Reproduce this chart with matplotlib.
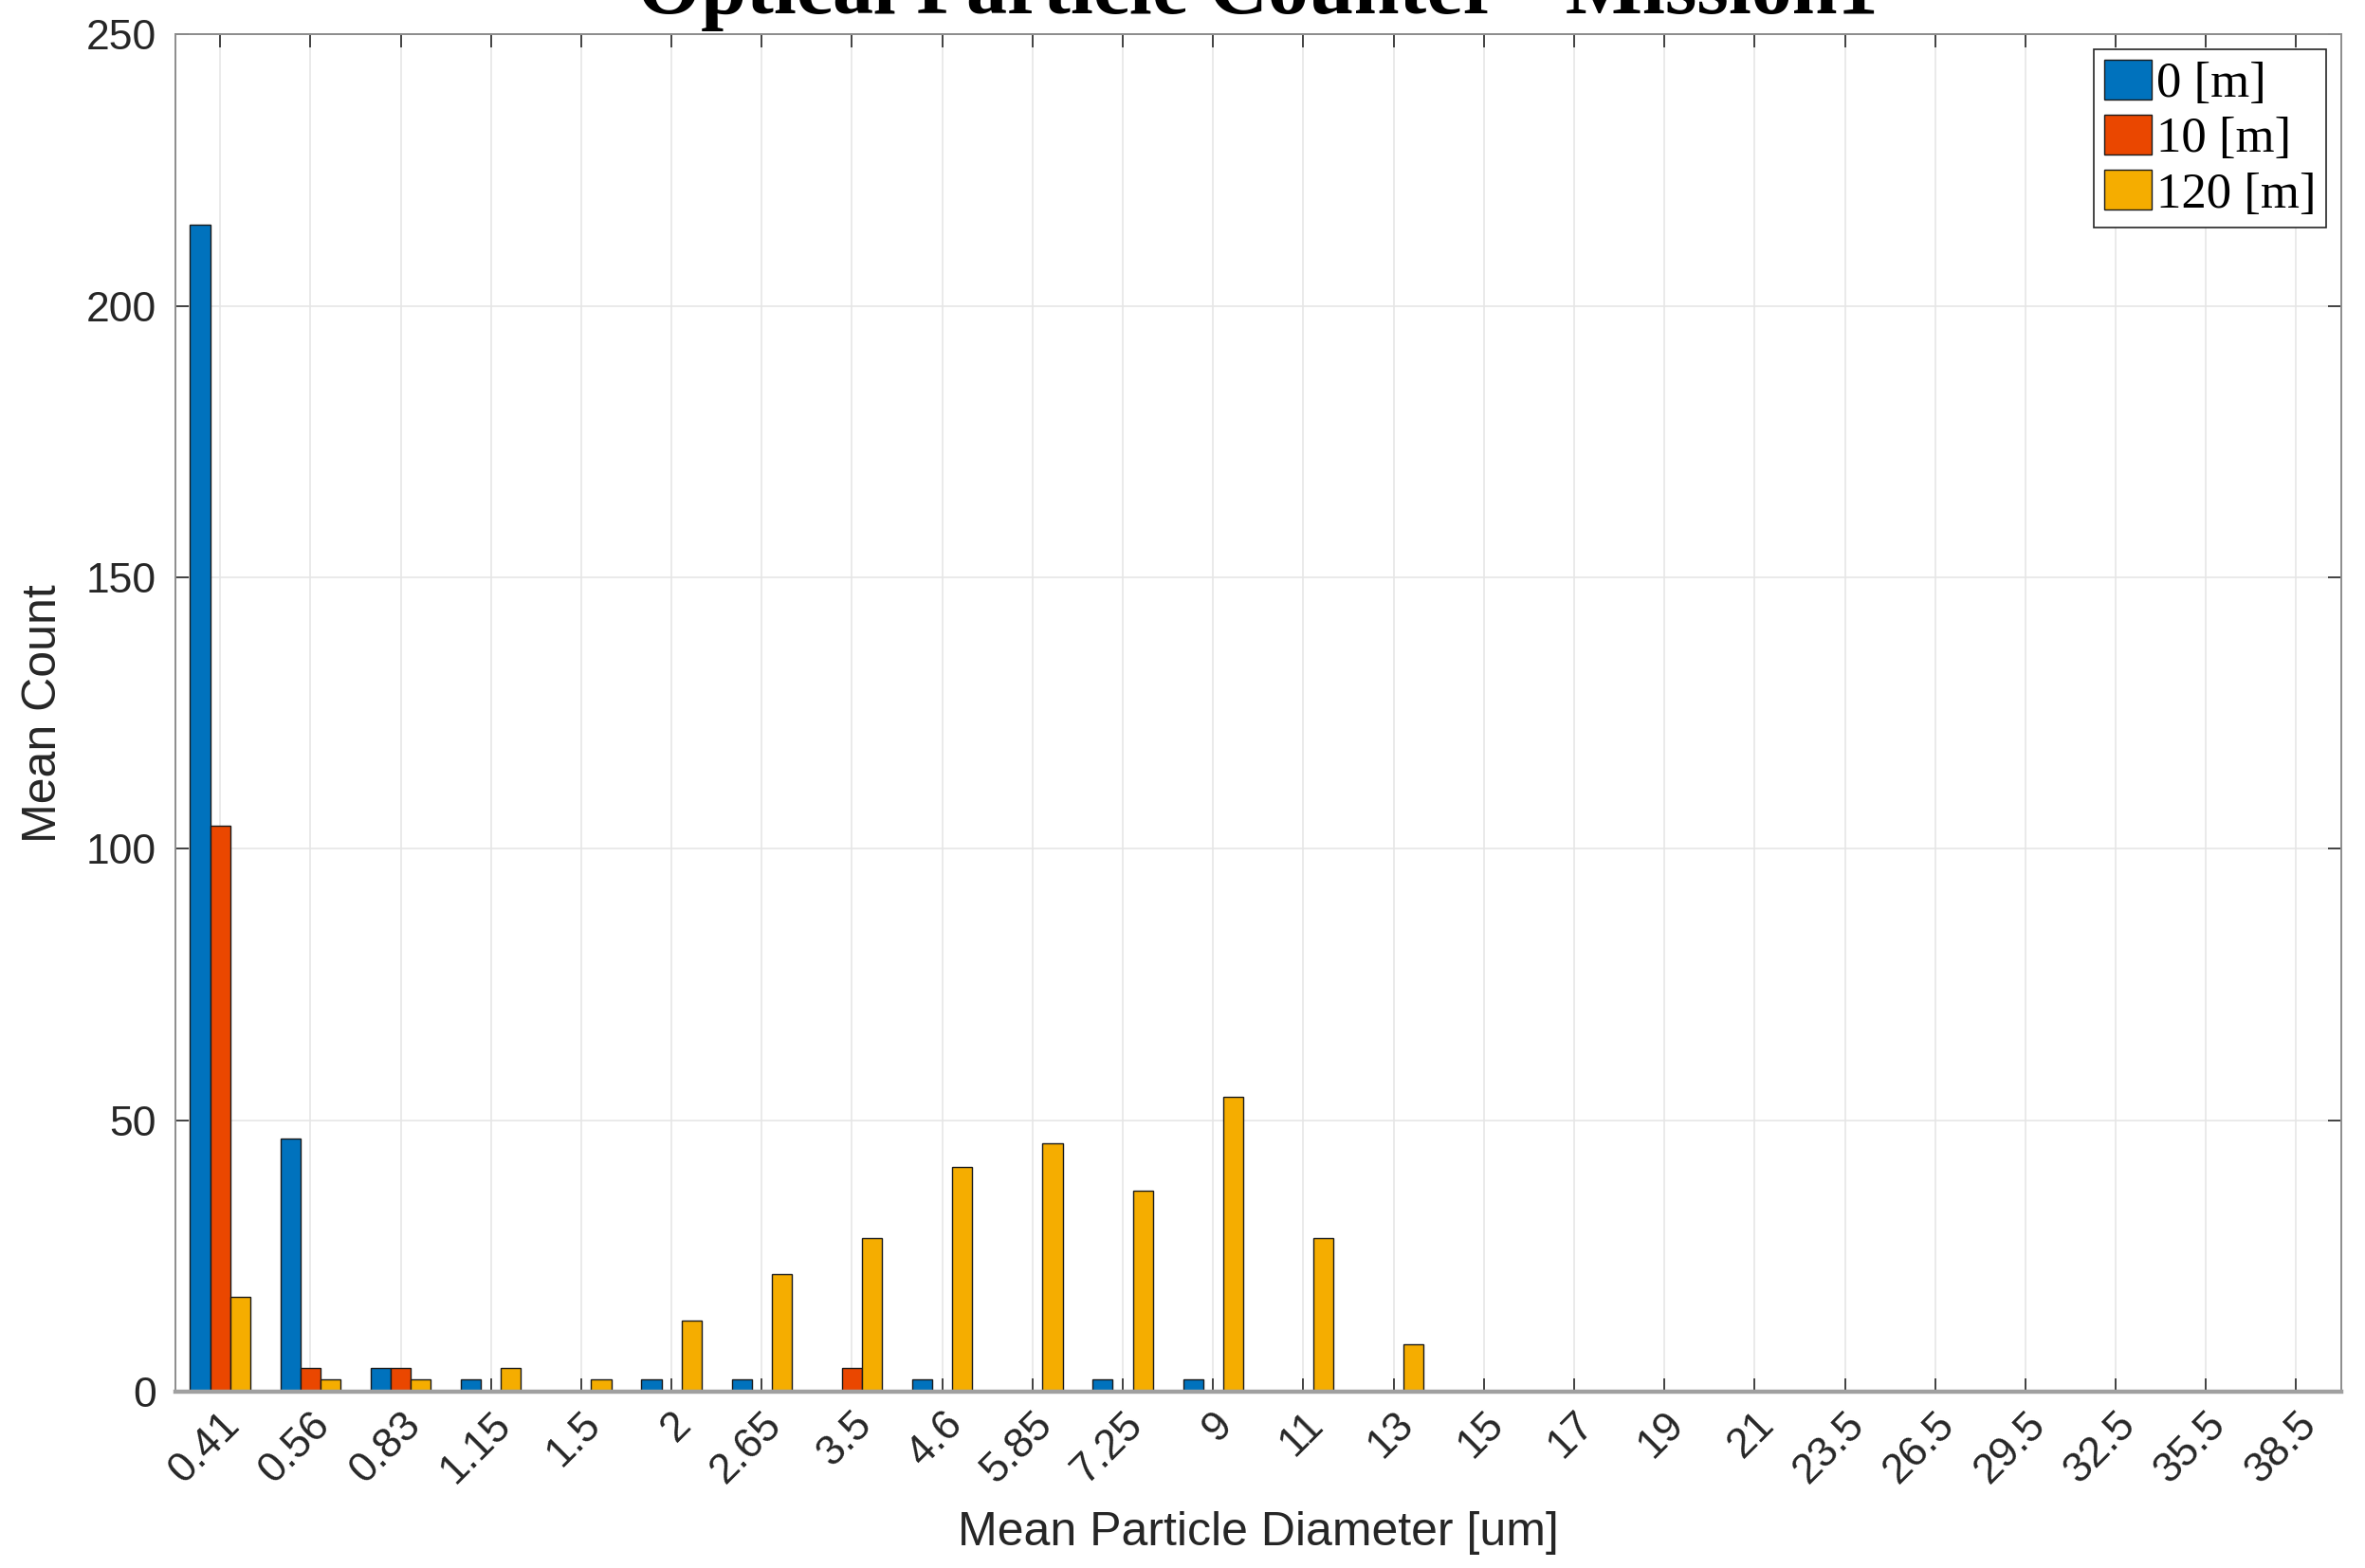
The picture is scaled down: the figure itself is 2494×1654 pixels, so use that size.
import numpy as np
import matplotlib
matplotlib.use("Agg")
import matplotlib.pyplot as plt

# size bins (um) and mean counts per altitude
bins = ["0.41", "0.56", "0.83", "1.15", "1.5", "2", "2.65", "3.5", "4.6", "5.85",
        "7.25", "9", "11", "13", "15", "17", "19", "21", "23.5", "26.5",
        "29.5", "32.5", "35.5", "38.5"]
count_0m = [215, 46.7, 4.3, 2.2, 0, 2.2, 2.2, 0, 2.2, 0,
            2.2, 2.2, 0, 0, 0, 0, 0, 0, 0, 0, 0, 0, 0, 0]
count_10m = [104.3, 4.3, 4.3, 0, 0, 0, 0, 4.3, 0, 0,
             0, 0, 0, 0, 0, 0, 0, 0, 0, 0, 0, 0, 0, 0]
count_120m = [17.4, 2.2, 2.2, 4.3, 2.2, 13.0, 21.7, 28.3, 41.3, 45.7,
              37.0, 54.3, 28.3, 8.7, 0, 0, 0, 0, 0, 0, 0, 0, 0, 0]
labels = ["0 [m]", "10 [m]", "120 [m]"]
colors = ["#0072BD", "#EA4700", "#F5AD00"]

fig = plt.figure(figsize=(12.47, 8.27), dpi=200)
ax = fig.add_axes([0.074, 0.1125, 0.916, 0.8655])

x = np.arange(1, len(bins) + 1)
w = 0.222
for k, (vals, lab, c) in enumerate(zip([count_0m, count_10m, count_120m], labels, colors)):
    ax.bar(x + (k - 1) * w, vals, width=w, color=c, edgecolor="#1a1a1a",
           linewidth=0.5, label=lab, zorder=2)

ax.set_xlim(0.5, 24.5)
ax.set_ylim(0, 250)
ax.set_yticks(np.arange(0, 251, 50))
ax.set_xticks(x)
ax.set_xticklabels(bins, rotation=45, ha="right", rotation_mode="anchor",
                   family="Liberation Sans", fontsize=16, color="#262626")
for t in ax.get_yticklabels():
    t.set_family("Liberation Sans")
    t.set_fontsize(16)
    t.set_color("#262626")

ax.grid(True, color="#e6e6e6", linewidth=0.6, zorder=0)
ax.set_axisbelow(True)
ax.tick_params(direction="in", length=5, width=0.6, color="#262626",
               top=True, right=True, pad=7)
ax.tick_params(axis="x", pad=5)
for s in ax.spines.values():
    s.set_color("#8c8c8c")
    s.set_linewidth(0.7)
ax.spines["bottom"].set_color("#a0a0a0")
ax.spines["bottom"].set_linewidth(1.6)

ax.set_xlabel("Mean Particle Diameter [um]", family="Liberation Sans",
              fontsize=18, color="#262626", labelpad=8)
ax.set_ylabel("Mean Count", family="Liberation Sans", fontsize=18,
              color="#262626", labelpad=8)

fig.text(0.532, 0.9915, "Optical Particle Counter - Mission1", ha="center",
         va="baseline", family="Liberation Serif", fontweight="bold", fontsize=31)

leg = ax.legend(loc="upper right", prop={"family": "Liberation Serif", "size": 19},
                fancybox=False, framealpha=1, edgecolor="#262626",
                borderaxespad=0.3, handlelength=0.95, handleheight=0.85,
                handletextpad=0.1, labelspacing=0.15, borderpad=0.2)
leg.get_frame().set_linewidth(0.6)

fig.savefig("out.png", dpi=200)
